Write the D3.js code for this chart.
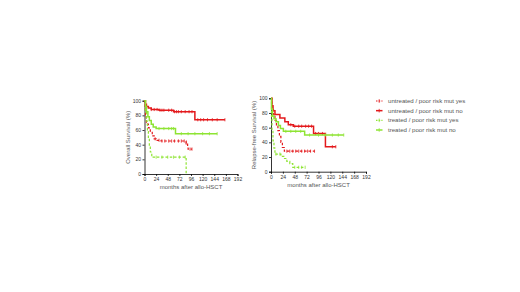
<!DOCTYPE html>
<html lang="en">
<head>
  <meta charset="UTF-8">
  <title>Survival by treatment and poor risk mutation</title>
  <script src="https://d3js.org/d3.v7.min.js"></script>
  <style>
    body { margin: 0; background: #fff; font-family: "Liberation Sans", Arial, sans-serif; }
    .tick text { font-size: 5px; fill: #333; }
    .axis path, .axis line { stroke: #000; stroke-width: 0.8px; }
    .axis-label { font-size: 6px; fill: #555; }
    .legend text { font-size: 6.1px; fill: #555; }
  </style>
</head>
<body>
  <svg width="520" height="292"></svg>

  <script>
    // tick values
    const monthTicks = [0, 24, 48, 72, 96, 120, 144, 168, 192];
    const pctTicks = [0, 20, 40, 60, 80, 100];

    const legendLabels = [
      "untreated / poor risk mut yes",
      "untreated / poor risk mut no",
      "treated / poor risk mut yes",
      "treated / poor risk mut no"
    ];

    // overall survival, [month, %]
    const osUntreatedYes = [[0,100],[1,90],[2,78],[4,68],[8,63],[12,58],[16,52],[20,48],[24,46],[34,45],[86,42],[89,38],[90,34],[98,34]];
    const osUntreatedNo = [[0,100],[2,95],[4,92],[8,90],[14,88],[30,87],[60,85],[104,74],[166,74]];
    const osTreatedYes = [[0,100],[2,85],[4,72],[6,58],[8,48],[10,38],[12,30],[15,23],[86,0]];
    const osTreatedNo = [[0,100],[2,92],[4,85],[7,78],[10,73],[14,68],[18,64],[24,62],[64,55],[150,55]];

    // relapse-free survival, [month, %]
    const rfsUntreatedYes = [[0,100],[2,88],[5,78],[8,70],[11,63],[14,56],[17,48],[20,40],[23,33],[27,28],[88,28]];
    const rfsUntreatedNo = [[0,100],[2,90],[4,83],[8,78],[18,73],[28,68],[35,64],[45,62],[86,52],[110,34],[131,34]];
    const rfsTreatedYes = [[0,100],[1,75],[2,55],[4,42],[6,32],[8,24],[20,21],[26,18],[32,14],[38,11],[44,6],[69,6]];
    const rfsTreatedNo = [[0,100],[1,85],[3,76],[6,72],[10,68],[15,63],[19,59],[25,55],[68,50],[147,50]];

    // censored times (months)
    const osUntreatedYesCens = [22, 30, 36, 42, 50, 56, 62, 70, 76, 82, 86, 94, 98];
    const osUntreatedNoCens = [14, 20, 26, 32, 36, 40, 50, 56, 62, 66, 70, 76, 84, 92, 98, 110, 116, 122, 130, 140, 150, 166];
    const osTreatedYesCens = [24, 36, 48, 60, 72, 84];
    const osTreatedNoCens = [30, 40, 50, 56, 60, 76, 90, 104, 120, 134, 150];
    const rfsUntreatedYesCens = [32, 38, 44, 50, 56, 62, 68, 74, 80, 88];
    const rfsUntreatedNoCens = [40, 48, 56, 62, 70, 76, 82, 90, 96, 104, 124, 131];
    const rfsTreatedYesCens = [10, 18, 48, 56, 62, 69];
    const rfsTreatedNoCens = [30, 40, 50, 60, 78, 96, 110, 124, 136, 147];

    const red = "#e3191c", green = "#8ee433";
    const styles = [
      {color: red, dash: "2.5,1.8", width: 1.2},
      {color: red, dash: null, width: 1.5},
      {color: green, dash: "2.5,1.8", width: 1.2},
      {color: green, dash: null, width: 1.5}
    ];

    const svg = d3.select("svg");

    // value of a step curve at month t
    function survAt(series, t) {
      let v = series[0][1];
      for (const p of series) if (p[0] <= t) v = p[1];
      return v;
    }

    function panel(box, yTitle, series, cens) {
      const x = d3.scaleLinear().domain([0, 192]).range([box.x0, box.x1]);
      const y = d3.scaleLinear().domain([0, 100]).range([box.y0, box.y1]);
      const g = svg.append("g");

      g.append("g").attr("class", "axis")
        .attr("transform", `translate(0,${box.y0})`)
        .call(d3.axisBottom(x).tickValues(monthTicks).tickSize(2).tickPadding(1.5));
      g.append("g").attr("class", "axis")
        .attr("transform", `translate(${box.x0},0)`)
        .call(d3.axisLeft(y).tickValues(pctTicks).tickSize(2).tickPadding(1.5));

      const line = d3.line().curve(d3.curveStepAfter)
        .x(d => x(d[0])).y(d => y(d[1]));

      series.forEach((s, i) => {
        const st = styles[i];
        g.append("path").datum(s)
          .attr("d", line)
          .attr("fill", "none")
          .attr("stroke", st.color)
          .attr("stroke-width", st.width)
          .attr("stroke-dasharray", st.dash);
        g.selectAll(null).data(cens[i]).enter().append("line")
          .attr("x1", t => x(t)).attr("x2", t => x(t))
          .attr("y1", t => y(survAt(s, t)) - 1.6)
          .attr("y2", t => y(survAt(s, t)) + 1.6)
          .attr("stroke", st.color)
          .attr("stroke-width", 0.8);
      });

      g.append("text").attr("class", "axis-label")
        .attr("x", (box.x0 + box.x1) / 2)
        .attr("y", box.y0 + 15)
        .attr("text-anchor", "middle")
        .text("months after allo-HSCT");

      g.append("text").attr("class", "axis-label")
        .attr("transform", `translate(${box.x0 - 15},${(box.y0 + box.y1) / 2}) rotate(-90)`)
        .attr("text-anchor", "middle")
        .text(yTitle);
    }

    panel({x0: 144.5, x1: 237.5, y0: 174, y1: 100.7}, "Overall Survival (%)",
      [osUntreatedYes, osUntreatedNo, osTreatedYes, osTreatedNo],
      [osUntreatedYesCens, osUntreatedNoCens, osTreatedYesCens, osTreatedNoCens]);

    panel({x0: 271, x1: 366, y0: 171.7, y1: 98.3}, "Relapse-free Survival (%)",
      [rfsUntreatedYes, rfsUntreatedNo, rfsTreatedYes, rfsTreatedNo],
      [rfsUntreatedYesCens, rfsUntreatedNoCens, rfsTreatedYesCens, rfsTreatedNoCens]);

    // legend
    const legend = svg.append("g").attr("class", "legend");
    const rowY = d3.scalePoint().domain(d3.range(legendLabels.length)).range([101, 130]);
    legendLabels.forEach((lab, i) => {
      const st = styles[i];
      const yy = rowY(i);
      legend.append("line")
        .attr("x1", 376).attr("x2", 382.5).attr("y1", yy).attr("y2", yy)
        .attr("stroke", st.color).attr("stroke-width", st.width)
        .attr("stroke-dasharray", st.dash ? "1.5,1.2" : null);
      legend.append("line")
        .attr("x1", 379.2).attr("x2", 379.2).attr("y1", yy - 1.8).attr("y2", yy + 1.8)
        .attr("stroke", st.color).attr("stroke-width", 0.8);
      legend.append("text")
        .attr("x", 388).attr("y", yy)
        .attr("dy", "0.35em")
        .text(lab);
    });
  </script>
</body>
</html>
